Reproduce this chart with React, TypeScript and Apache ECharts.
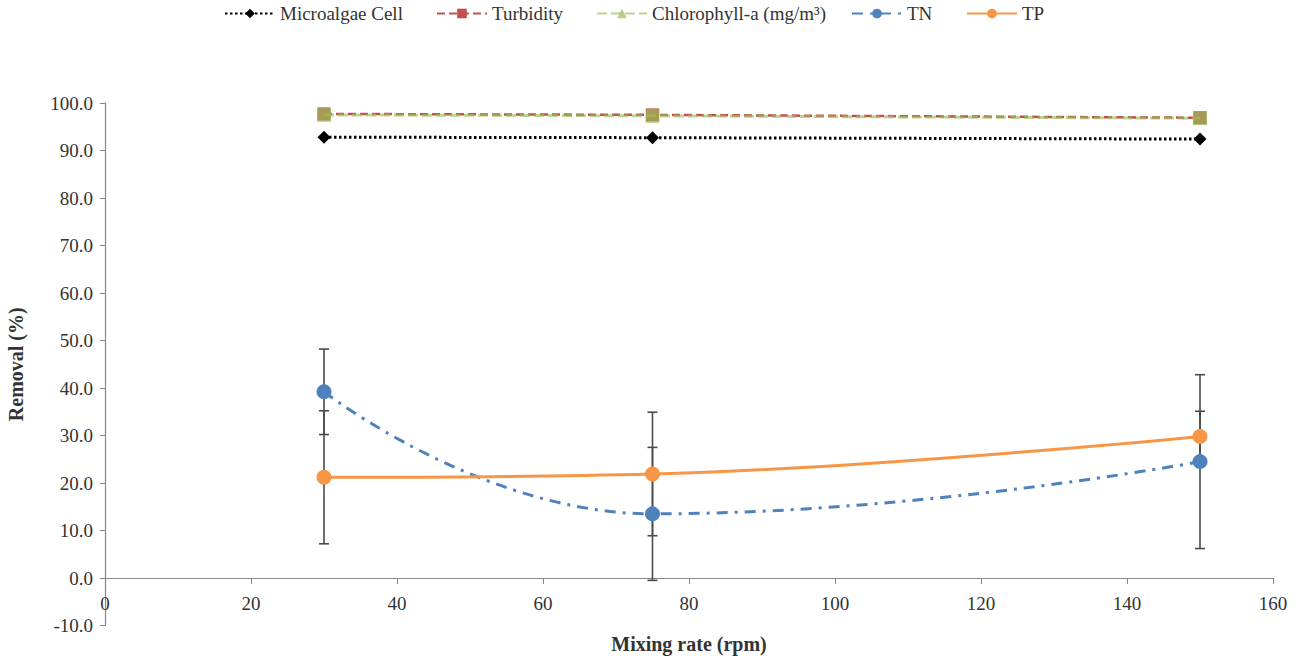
import React, { useEffect, useRef } from "react";
import * as echarts from "echarts";

const mixingRates = [30, 75, 150];
const microalgaeCell = [92.8, 92.7, 92.4];
const turbidity = [97.7, 97.5, 96.9];
const chlorophyll = [97.5, 97.3, 96.8];
const tnValues = [39.2, 13.5, 24.5];
const tnErrors = [9.0, 14.0, 18.3];
const tpValues = [21.2, 21.9, 29.8];
const tpErrors = [14.0, 13.0, 5.3];
const legendNames = ["Microalgae Cell", "Turbidity", "Chlorophyll-a (mg/m³)", "TN", "TP"];
const legendLefts = [224, 436, 596, 851, 966];

const FONT = "'Liberation Serif', 'Times New Roman', serif";
const TEXT = "#333333";
const AXIS = "#888888";

function errorSeries(name: string, vals: number[], errs: number[]) {
  const data = mixingRates.map((x, i) => [x, vals[i] - errs[i], vals[i] + errs[i]]);
  return {
    type: "custom",
    name,
    silent: true,
    z: 1,
    data,
    renderItem: (params: any, api: any) => {
      const x = api.value(0);
      const lo = api.coord([x, api.value(1)]);
      const hi = api.coord([x, api.value(2)]);
      const w = 5;
      const style = { stroke: "#4a4a4a", lineWidth: 1.6 };
      return {
        type: "group",
        children: [
          { type: "line", shape: { x1: lo[0], y1: lo[1], x2: hi[0], y2: hi[1] }, style },
          { type: "line", shape: { x1: lo[0] - w, y1: lo[1], x2: lo[0] + w, y2: lo[1] }, style },
          { type: "line", shape: { x1: hi[0] - w, y1: hi[1], x2: hi[0] + w, y2: hi[1] }, style },
        ],
      };
    },
  };
}

const pairs = (vals: number[]) => mixingRates.map((x, i) => [x, vals[i]]);

export default function App() {
  const ref = useRef<HTMLDivElement>(null);
  useEffect(() => {
    if (!ref.current) return;
    const chart = echarts.init(ref.current, undefined, { renderer: "svg" });
    chart.setOption({
      animation: false,
      backgroundColor: "#ffffff",
      legend: legendNames.map((n, i) => ({
        data: [n],
        top: 4,
        left: legendLefts[i],
        padding: 0,
        itemWidth: 50,
        itemHeight: 12,
        textStyle: { fontFamily: FONT, fontSize: 19, color: TEXT },
      })),
      grid: { left: 105, right: 29, top: 103, bottom: 30.5, containLabel: false, outerBoundsMode: "none" },
      xAxis: {
        type: "value",
        min: 0,
        max: 160,
        interval: 20,
        name: "Mixing rate (rpm)",
        nameLocation: "middle",
        nameGap: 8,
        nameTextStyle: { fontFamily: FONT, fontSize: 20, fontWeight: "bold", color: TEXT },
        axisLine: { onZero: true, lineStyle: { color: AXIS, width: 1.2 } },
        axisTick: { show: true, length: 6, inside: false, lineStyle: { color: AXIS } },
        axisLabel: { fontFamily: FONT, fontSize: 19, color: TEXT, margin: -32 },
        splitLine: { show: false },
      },
      yAxis: {
        type: "value",
        min: -10,
        max: 100,
        interval: 10,
        name: "Removal (%)",
        nameLocation: "middle",
        nameGap: 79,
        nameRotate: 90,
        nameTextStyle: { fontFamily: FONT, fontSize: 20, fontWeight: "bold", color: TEXT },
        axisLine: { show: true, lineStyle: { color: AXIS, width: 1.2 } },
        axisTick: { show: true, length: 5, lineStyle: { color: AXIS } },
        axisLabel: {
          fontFamily: FONT,
          fontSize: 19,
          color: TEXT,
          margin: 12,
          formatter: (v: number) => v.toFixed(1),
        },
        splitLine: { show: false },
      },
      series: [
        errorSeries("TN err", tnValues, tnErrors),
        errorSeries("TP err", tpValues, tpErrors),
        {
          name: "Microalgae Cell",
          type: "line",
          data: pairs(microalgaeCell),
          symbol: "diamond",
          symbolSize: 13,
          z: 3,
          itemStyle: { color: "#000000" },
          lineStyle: { color: "#000000", width: 3, type: [2.5, 2.5] },
        },
        {
          name: "Turbidity",
          type: "line",
          data: pairs(turbidity),
          symbol: "rect",
          symbolSize: 13,
          z: 3,
          itemStyle: { color: "#C0504D" },
          lineStyle: { color: "#C0504D", width: 2.5, type: [8, 4] },
        },
        {
          name: "Chlorophyll-a (mg/m³)",
          type: "line",
          data: pairs(chlorophyll).map((p) => ({ value: p, symbol: "rect", symbolSize: 14 })),
          symbol: "triangle",
          symbolSize: 16,
          z: 4,
          itemStyle: { color: "#9BBB59", opacity: 0.7 },
          lineStyle: { color: "#9BBB59", width: 3, type: [10, 4], opacity: 0.65 },
        },
        {
          name: "TN",
          type: "line",
          data: pairs(tnValues),
          smooth: 0.5,
          symbol: "circle",
          symbolSize: 15,
          z: 5,
          itemStyle: { color: "#4F81BD" },
          lineStyle: { color: "#4F81BD", width: 3, type: [11, 7, 3, 7] },
        },
        {
          name: "TP",
          type: "line",
          data: pairs(tpValues),
          smooth: 0.4,
          symbol: "circle",
          symbolSize: 15,
          z: 5,
          itemStyle: { color: "#F79646" },
          lineStyle: { color: "#F79646", width: 3 },
        },
      ],
    });
    return () => chart.dispose();
  }, []);
  return (
    <div
      ref={ref}
      style={{ position: "absolute", left: 0, top: 0, width: 1302, height: 656 }}
    />
  );
}
